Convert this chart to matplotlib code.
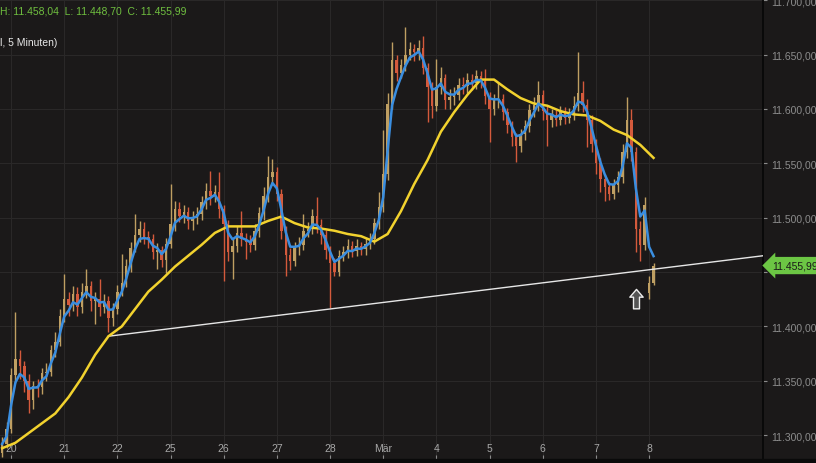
import numpy as np
import pandas as pd
import matplotlib
matplotlib.use("Agg")
import matplotlib.pyplot as plt
from matplotlib.path import Path
from matplotlib.patches import Rectangle

# DAX intraday, one bar per ~1/12 trading day
closes = [
    11292, 11306, 11355, 11370, 11364, 11350, 11332, 11345, 11344, 11357,
    11358, 11378, 11386, 11410, 11425, 11420, 11430, 11418, 11432, 11437,
    11423, 11425, 11418, 11423, 11408, 11416, 11432, 11440, 11456, 11472,
    11484, 11490, 11482, 11480, 11468, 11470, 11461, 11476, 11494, 11508,
    11502, 11505, 11497, 11500, 11503, 11514, 11525, 11520, 11524, 11508,
    11494, 11468, 11474, 11486, 11480, 11478, 11475, 11488, 11504, 11520,
    11537, 11542, 11522, 11488, 11466, 11460, 11473, 11475, 11488, 11490,
    11502, 11493, 11484, 11470, 11458, 11450, 11465, 11468, 11474, 11469,
    11474, 11471, 11476, 11480, 11495, 11510, 11540, 11605, 11645, 11633,
    11640, 11650, 11655, 11652, 11656, 11638, 11620, 11603, 11620, 11628,
    11608, 11611, 11613, 11622, 11621, 11627, 11624, 11630, 11626, 11612,
    11600, 11608, 11609, 11597, 11585, 11574, 11566, 11577, 11584, 11599,
    11604, 11613, 11598, 11590, 11594, 11590, 11597, 11592, 11595, 11603,
    11615, 11604, 11590, 11568, 11550, 11536, 11528, 11522, 11530, 11537,
    11560, 11590, 11560, 11490, 11475, 11512, 11440, 11456,
]
highs = [
    11298, 11312, 11362, 11413, 11378, 11368, 11356, 11350, 11352, 11362,
    11366, 11383, 11395, 11416, 11448, 11432, 11437, 11436, 11440, 11453,
    11442, 11432, 11444, 11430, 11428, 11422, 11438, 11467, 11462, 11478,
    11503, 11497, 11496, 11488, 11485, 11477, 11474, 11481, 11531, 11515,
    11514, 11512, 11510, 11506, 11510, 11520, 11532, 11543, 11530, 11542,
    11512, 11498, 11480, 11492, 11506, 11486, 11484, 11494, 11510, 11528,
    11557, 11554, 11547, 11526, 11492, 11472, 11478, 11482, 11503, 11496,
    11508, 11519, 11499, 11489, 11474, 11463, 11470, 11474, 11480, 11479,
    11480, 11478, 11481, 11486, 11500, 11524, 11581, 11615, 11662, 11650,
    11646, 11675, 11662, 11660, 11663, 11667, 11642, 11625, 11646, 11639,
    11632, 11618, 11620, 11628, 11629, 11633, 11632, 11636, 11635, 11637,
    11616, 11614, 11625, 11614, 11601, 11589, 11578, 11582, 11590, 11605,
    11611, 11626, 11617, 11603, 11600, 11599, 11603, 11602, 11601, 11612,
    11652, 11626, 11609, 11594, 11572, 11555, 11540, 11533, 11536, 11543,
    11568, 11611, 11600, 11565, 11497, 11519, 11446, 11458,
]
lows = [
    11280, 11288, 11302, 11348, 11352, 11340, 11320, 11324, 11335, 11338,
    11350, 11354, 11372, 11382, 11404, 11410, 11414, 11410, 11412, 11426,
    11414, 11402, 11410, 11412, 11395, 11400, 11411, 11428, 11436, 11450,
    11468, 11478, 11476, 11472, 11462, 11453, 11455, 11449, 11472, 11488,
    11496, 11495, 11490, 11489, 11494, 11498, 11508, 11512, 11514, 11500,
    11442, 11460, 11444, 11468, 11474, 11462, 11468, 11470, 11482, 11498,
    11514, 11530, 11515, 11480, 11446, 11452, 11456, 11466, 11470, 11482,
    11485, 11486, 11476, 11462, 11417, 11446, 11446, 11460, 11463, 11464,
    11465, 11466, 11466, 11471, 11476, 11490, 11505, 11535, 11600, 11626,
    11628, 11635, 11645, 11644, 11645, 11632, 11588, 11592, 11598, 11614,
    11600, 11600, 11604, 11608, 11614, 11615, 11617, 11618, 11619, 11605,
    11570, 11594, 11601, 11590, 11578, 11566, 11551, 11560, 11571, 11579,
    11593, 11598, 11590, 11566, 11583, 11584, 11585, 11586, 11587, 11590,
    11598, 11597, 11565, 11560, 11540, 11524, 11515, 11516, 11517, 11524,
    11532, 11555, 11552, 11468, 11460, 11470, 11425, 11438,
]
first_open = 11284
gap_opens = {146: 11431}   # day 8 opens with a gap

# slow moving average, one value every 3 bars
ma_slow_step = 3
ma_slow = [
    11288, 11293, 11302, 11311, 11320, 11335, 11353, 11374, 11391, 11400,
    11416, 11432, 11443, 11455, 11465, 11475, 11486, 11492, 11492, 11492,
    11497, 11501, 11495, 11491, 11490, 11488, 11485, 11483, 11478, 11485,
    11506, 11531, 11553, 11579, 11597, 11613, 11627, 11627, 11618, 11610,
    11605, 11603, 11598, 11595, 11594, 11589, 11581, 11576, 11567, 11555,
]

day_labels = ["20", "21", "22", "25", "26", "27", "28", "Mär", "4", "5", "6", "7", "8"]
bars_per_day = 12
first_day_bar = 2

trend_bars = [24, 171.7]
trend_prices = [11391, 11465]

last_price = 11455.99
arrow_bar, arrow_price = 143.1, 11424
header = "H: 11.458,04  L: 11.448,70  C: 11.455,99"
title_part = "l, 5 Minuten)"


def de_fmt(v):
    return f"{v:,.2f}".replace(",", "X").replace(".", ",").replace("X", ".")


bg = "#1b1919"
closes = np.array(closes, dtype=float)
highs = np.array(highs, dtype=float)
lows = np.array(lows, dtype=float)
opens = np.r_[first_open, closes[:-1]]
for k, v in gap_opens.items():
    opens[k] = v
idx = np.arange(len(closes))
fast_ma = pd.Series(closes).ewm(span=3, adjust=False).mean()

fig = plt.figure(figsize=(8.16, 4.64), dpi=100)
fig.patch.set_facecolor(bg)
ax = fig.add_axes([0, 4 / 464, 763 / 816, 460 / 464])
ax.set_facecolor(bg)

# candles
up = closes >= opens
colors = np.where(up, "#bf9f62", "#d45a3c")
ax.vlines(idx, lows, highs, colors=colors, lw=1.0, zorder=2)
body_h = np.maximum(np.abs(closes - opens), 1.2)
ax.bar(idx, body_h, bottom=np.minimum(opens, closes), width=0.55,
       color=colors, lw=0, zorder=2)

ax.plot(trend_bars, trend_prices, color="#e6e6e6", lw=1.0, zorder=3)
ax.plot(np.arange(len(ma_slow)) * ma_slow_step, ma_slow, color="#f2d22e", lw=1.8, zorder=4)
ax.plot(idx, fast_ma, color="#3a8ee0", lw=1.8, zorder=5)

# arrow marker
verts = [(0, 1), (-0.6, 0.3), (-0.27, 0.3), (-0.27, -0.75), (0.27, -0.75),
         (0.27, 0.3), (0.6, 0.3), (0, 1)]
arrow = Path(verts, [Path.MOVETO] + [Path.LINETO] * 6 + [Path.CLOSEPOLY])
ax.plot([arrow_bar], [arrow_price], marker=arrow, ms=16, mfc="#555555",
        mec="#eeeeee", mew=1.0, zorder=6)

ax.set_xlim(-0.48, 171.7)
ax.set_ylim(11278.1, 11701.1)

day_bars = [first_day_bar + bars_per_day * i for i in range(len(day_labels))]
ax.set_xticks(day_bars)
ax.tick_params(axis="x", direction="in", length=3, color="#8a8a8a", labelbottom=False)
for b, lab in zip(day_bars, day_labels):
    ax.text(b, 0.024, lab, transform=ax.get_xaxis_transform(), ha="center",
            va="center", color="#a8a8a8", fontsize=7.5, family="Liberation Sans")

yt = list(range(11300, 11701, 50))
ax.yaxis.tick_right()
ax.set_yticks(yt)
# the 11.450 label sits under the last-price tag
ax.set_yticklabels(["" if v == 11450 else de_fmt(v) for v in yt], family="Liberation Sans")
ax.tick_params(axis="y", length=3, pad=3, color="#8a8a8a", labelcolor="#8c8c8c",
               labelsize=7.5)

ax.grid(True, color="#2a2828", lw=0.8, zorder=0)
for s in ["top", "left", "bottom"]:
    ax.spines[s].set_visible(False)
ax.spines["right"].set_color("#080808")
ax.spines["right"].set_linewidth(1.3)

# last price tag
tag_y = ax.transData.transform((0, last_price))[1] / fig.bbox.height
fig.text(772 / 816, tag_y, de_fmt(last_price), ha="left", va="center",
         fontsize=7.5, family="Liberation Sans", color="#1b1919", zorder=10,
         bbox=dict(boxstyle="larrow,pad=0.35", fc="#6cc644", ec="none"))

fig.text(0.0, 1 - 12 / 464, header, color="#6fbf3f", fontsize=7.5,
         va="center", family="Liberation Sans")
fig.text(0.0, 1 - 43 / 464, title_part, color="#e8e8e8", fontsize=7.5,
         va="center", family="Liberation Sans")

fig.patches.append(Rectangle((0, 0), 1, 4 / 464, transform=fig.transFigure,
                             color="#0a0a0a", zorder=0))

fig.savefig("out.png", dpi=100, facecolor=bg)
